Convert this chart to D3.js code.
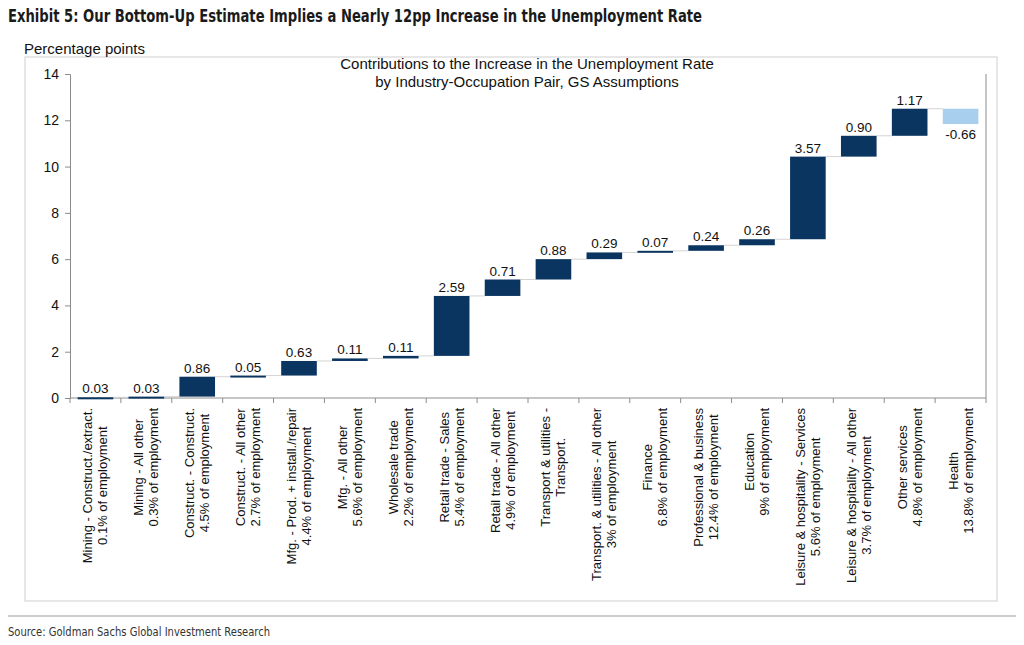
<!DOCTYPE html>
<html>
<head>
<meta charset="utf-8">
<script src="https://d3js.org/d3.v7.min.js"></script>
<style>
  body { margin: 0; background: #fff; }
  svg { display: block; }
</style>
</head>
<body>
<div class="chart"></div>
<script>
// Waterfall data
const industries = [
    "Mining - Construct./extract.", "Mining - All other", "Construct. - Construct.",
    "Construct. - All other", "Mfg. - Prod. + install./repair", "Mfg. - All other",
    "Wholesale trade", "Retail trade - Sales", "Retail trade - All other",
    "Transport & utilities -", "Transport. & utilities - All other", "Finance",
    "Professional & business", "Education", "Leisure & hospitality - Services",
    "Leisure & hospitality - All other", "Other services", "Health"
];
const shares = [
    "0.1% of employment", "0.3% of employment", "4.5% of employment",
    "2.7% of employment", "4.4% of employment", "5.6% of employment",
    "2.2% of employment", "5.4% of employment", "4.9% of employment",
    "Transport.", "3% of employment", "6.8% of employment",
    "12.4% of employment", "9% of employment", "5.6% of employment",
    "3.7% of employment", "4.8% of employment", "13.8% of employment"
];
const contributions = [0.03, 0.03, 0.86, 0.05, 0.63, 0.11, 0.11, 2.59, 0.71,
    0.88, 0.29, 0.07, 0.24, 0.26, 3.57, 0.90, 1.17, -0.66];
const yTicks = [0, 2, 4, 6, 8, 10, 12, 14];

const width = 1024, height = 645;
const plot = { left: 70, right: 986, top: 74, bottom: 398 };
const narrow = '"Liberation Sans Narrow", "DejaVu Sans Condensed", sans-serif';
const arial = '"Liberation Sans", Arial, sans-serif';

const svg = d3.select('.chart').append('svg')
    .attr('width', width)
    .attr('height', height);

// title (condensed face squeezed to the original width)
svg.append('text')
    .attr('x', 8).attr('y', 22)
    .attr('textLength', 694)
    .attr('lengthAdjust', 'spacingAndGlyphs')
    .style('font-family', narrow)
    .style('font-weight', 'bold')
    .style('font-size', '17px')
    .attr('fill', '#1a1a1a')
    .text('Exhibit 5: Our Bottom-Up Estimate Implies a Nearly 12pp Increase in the Unemployment Rate');

// chart frame
svg.append('rect')
    .attr('x', 25).attr('y', 57)
    .attr('width', 972).attr('height', 544)
    .attr('fill', 'none')
    .attr('stroke', '#cfcfcf')
    .attr('stroke-width', 1);

svg.append('text')
    .attr('x', 24).attr('y', 54)
    .style('font-family', arial)
    .style('font-size', '15px')
    .attr('fill', '#111')
    .text('Percentage points');

const inner = svg.append('g')
    .style('font-family', arial)
    .style('font-size', '15px')
    .attr('fill', '#111')
    .attr('text-anchor', 'middle');
inner.append('text').attr('x', 527).attr('y', 69)
    .text('Contributions to the Increase in the Unemployment Rate');
inner.append('text').attr('x', 527).attr('y', 87)
    .text('by Industry-Occupation Pair, GS Assumptions');

// build waterfall
let running = 0;
const steps = contributions.map(function(v, i) {
    const start = running;
    running += v;
    return { i: i, value: v, start: start, end: running };
});

const x = d3.scaleBand()
    .domain(d3.range(industries.length))
    .range([plot.left, plot.right])
    .paddingInner(0.3)
    .paddingOuter(0.15);

const y = d3.scaleLinear()
    .domain([0, 14])
    .range([plot.bottom, plot.top]);

// y axis
const yAxis = svg.append('g')
    .attr('transform', 'translate(' + plot.left + ',0)')
    .call(d3.axisLeft(y).tickValues(yTicks).tickSize(5).tickPadding(6));
yAxis.select('.domain').attr('stroke', '#8c8c8c');
yAxis.selectAll('.tick line').attr('stroke', '#8c8c8c');
yAxis.selectAll('.tick text')
    .style('font-family', arial)
    .style('font-size', '14px')
    .attr('fill', '#111');

// right frame line
svg.append('line')
    .attr('x1', plot.right).attr('x2', plot.right)
    .attr('y1', plot.top).attr('y2', plot.bottom)
    .attr('stroke', '#8c8c8c');

// x axis with ticks at category boundaries
const bounds = d3.range(industries.length + 1).map(k => plot.left + k * (plot.right - plot.left) / industries.length);
const xAxisG = svg.append('g');
xAxisG.append('line')
    .attr('x1', plot.left).attr('x2', plot.right)
    .attr('y1', plot.bottom).attr('y2', plot.bottom)
    .attr('stroke', '#8c8c8c');
xAxisG.selectAll('.xtick')
    .data(bounds)
    .enter().append('line')
    .attr('class', 'xtick')
    .attr('x1', d => d).attr('x2', d => d)
    .attr('y1', plot.bottom).attr('y2', plot.bottom + 5)
    .attr('stroke', '#8c8c8c');

// connectors
svg.selectAll('.connector')
    .data(steps.slice(0, -1))
    .enter().append('line')
    .attr('class', 'connector')
    .attr('x1', d => x(d.i) + x.bandwidth())
    .attr('x2', d => x(d.i + 1))
    .attr('y1', d => y(d.end))
    .attr('y2', d => y(d.end))
    .attr('stroke', '#d4d4d4')
    .attr('stroke-width', 1);

// bars
svg.selectAll('.bar')
    .data(steps)
    .enter().append('rect')
    .attr('class', 'bar')
    .attr('x', d => x(d.i))
    .attr('width', x.bandwidth())
    .attr('y', d => y(Math.max(d.start, d.end)))
    .attr('height', d => Math.max(2, Math.abs(y(d.start) - y(d.end))))
    .attr('fill', d => d.value < 0 ? '#a9cfee' : '#0b3561');

// value labels
svg.selectAll('.label')
    .data(steps)
    .enter().append('text')
    .attr('class', 'label')
    .attr('x', d => x(d.i) + x.bandwidth() / 2)
    .attr('y', d => d.value < 0 ? y(d.end) + 15 : y(d.end) - 4)
    .attr('text-anchor', 'middle')
    .style('font-family', arial)
    .style('font-size', '13.5px')
    .attr('fill', '#111')
    .text(d => d.value.toFixed(2));

// rotated category labels, block centred and hung below the axis
const catG = svg.selectAll('.cat')
    .data(steps)
    .enter().append('g')
    .attr('class', 'cat')
    .style('font-family', arial)
    .style('font-size', '13px')
    .attr('fill', '#111');

catG.each(function(d) {
    const g = d3.select(this);
    const cx = x(d.i) + x.bandwidth() / 2;
    const t = g.append('text').attr('text-anchor', 'middle');
    t.append('tspan').attr('x', 0).attr('dy', 0).text(industries[d.i]);
    t.append('tspan').attr('x', 0).attr('dy', 15).text(shares[d.i]);
    let maxW = 0;
    t.selectAll('tspan').each(function() {
        maxW = Math.max(maxW, this.getComputedTextLength());
    });
    g.attr('transform', 'translate(' + (cx - 3) + ',' + (plot.bottom + 10 + maxW / 2) + ') rotate(-90)');
});

// source line
svg.append('line')
    .attr('x1', 8).attr('x2', 1016)
    .attr('y1', 616).attr('y2', 616)
    .attr('stroke', '#bdbdbd')
    .attr('stroke-width', 1.5);
svg.append('text')
    .attr('x', 8).attr('y', 636)
    .attr('textLength', 262)
    .attr('lengthAdjust', 'spacingAndGlyphs')
    .style('font-family', narrow)
    .style('font-size', '13px')
    .attr('fill', '#333')
    .text('Source: Goldman Sachs Global Investment Research');
</script>
</body>
</html>
